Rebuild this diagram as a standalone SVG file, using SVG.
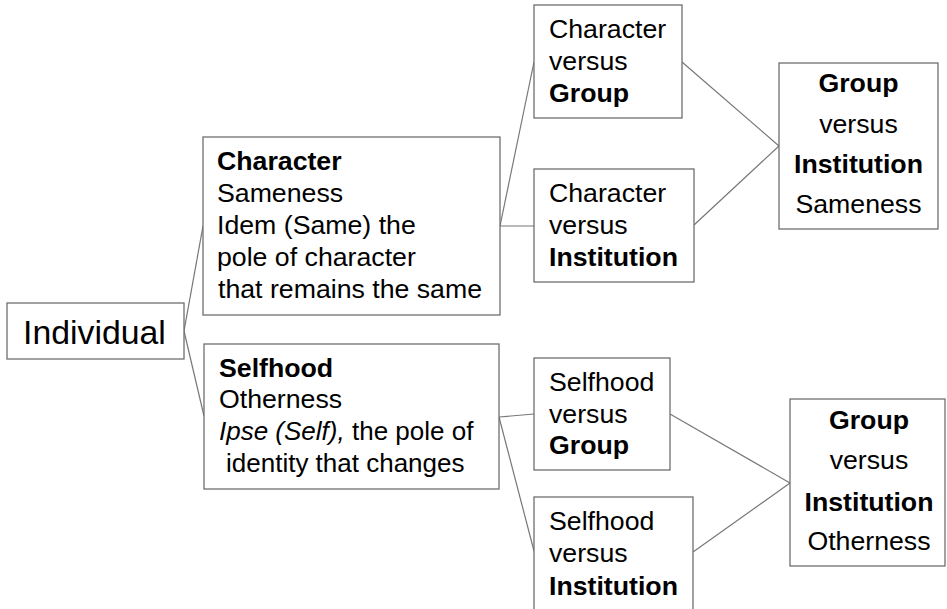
<svg xmlns="http://www.w3.org/2000/svg" width="947" height="609" viewBox="0 0 947 609">
<style>
.box{fill:#fff;stroke:#6f6f6f;stroke-width:1.3}
.ln{stroke:#777;stroke-width:1.2;fill:none}
text{font-family:"Liberation Sans",Arial,sans-serif;font-size:26.7px;fill:#000}
.b{font-weight:bold}
.c{text-anchor:middle}
.s{font-size:26px}
</style>
<rect width="947" height="609" fill="#fff"/>
<g id="connectors">
<line class="ln" x1="184" y1="331" x2="203" y2="226"/>
<line class="ln" x1="184" y1="331" x2="204" y2="416"/>
<line class="ln" x1="500" y1="226" x2="534" y2="62"/>
<line class="ln" x1="500" y1="226" x2="534" y2="226"/>
<line class="ln" x1="682" y1="62" x2="779" y2="146"/>
<line class="ln" x1="694" y1="225" x2="779" y2="146"/>
<line class="ln" x1="499" y1="417" x2="534" y2="414"/>
<line class="ln" x1="499" y1="417" x2="534" y2="551"/>
<line class="ln" x1="670" y1="414" x2="790" y2="483"/>
<line class="ln" x1="693" y1="552" x2="790" y2="483"/>
</g>
<g id="individual">
<rect class="box" x="7" y="303" width="177" height="56"/>
<text x="23" y="344" style="font-size:33.8px">Individual</text>
</g>
<g id="character">
<rect class="box" x="203" y="137" width="297" height="178"/>
<text x="217" y="170" class="b">Character</text>
<text x="217" y="202">Sameness</text>
<text x="217" y="234">Idem (Same) the</text>
<text x="217" y="266">pole of character</text>
<text x="218" y="298">that remains the same</text>
</g>
<g id="selfhood">
<rect class="box" x="204" y="344" width="295" height="145"/>
<text x="219" y="377" class="b">Selfhood</text>
<text x="219" y="408">Otherness</text>
<text x="219" y="440" class="s"><tspan font-style="italic">Ipse (Self),</tspan> the pole of</text>
<text x="226" y="472" class="s">identity that changes</text>
</g>
<g id="char-group">
<rect class="box" x="534" y="5" width="148" height="113"/>
<text x="549" y="38">Character</text>
<text x="549" y="70">versus</text>
<text x="549" y="102" class="b">Group</text>
</g>
<g id="char-inst">
<rect class="box" x="534" y="169" width="160" height="113"/>
<text x="549" y="202">Character</text>
<text x="549" y="234">versus</text>
<text x="549" y="266" class="b">Institution</text>
</g>
<g id="self-group">
<rect class="box" x="534" y="358" width="136" height="112"/>
<text x="549" y="391">Selfhood</text>
<text x="549" y="423">versus</text>
<text x="549" y="454" class="b">Group</text>
</g>
<g id="self-inst">
<rect class="box" x="534" y="497" width="159" height="120"/>
<text x="549" y="530">Selfhood</text>
<text x="549" y="562">versus</text>
<text x="549" y="595" class="b">Institution</text>
</g>
<g id="gi-sameness">
<rect class="box" x="779" y="63" width="159" height="166"/>
<text x="858.5" y="92" class="b c">Group</text>
<text x="858.5" y="133" class="c">versus</text>
<text x="858.5" y="173" class="b c">Institution</text>
<text x="858.5" y="213" class="c">Sameness</text>
</g>
<g id="gi-otherness">
<rect class="box" x="790" y="399" width="155" height="167"/>
<text x="869" y="429" class="b c">Group</text>
<text x="869" y="469" class="c">versus</text>
<text x="869" y="511" class="b c">Institution</text>
<text x="869" y="550" class="c">Otherness</text>
</g>
</svg>
